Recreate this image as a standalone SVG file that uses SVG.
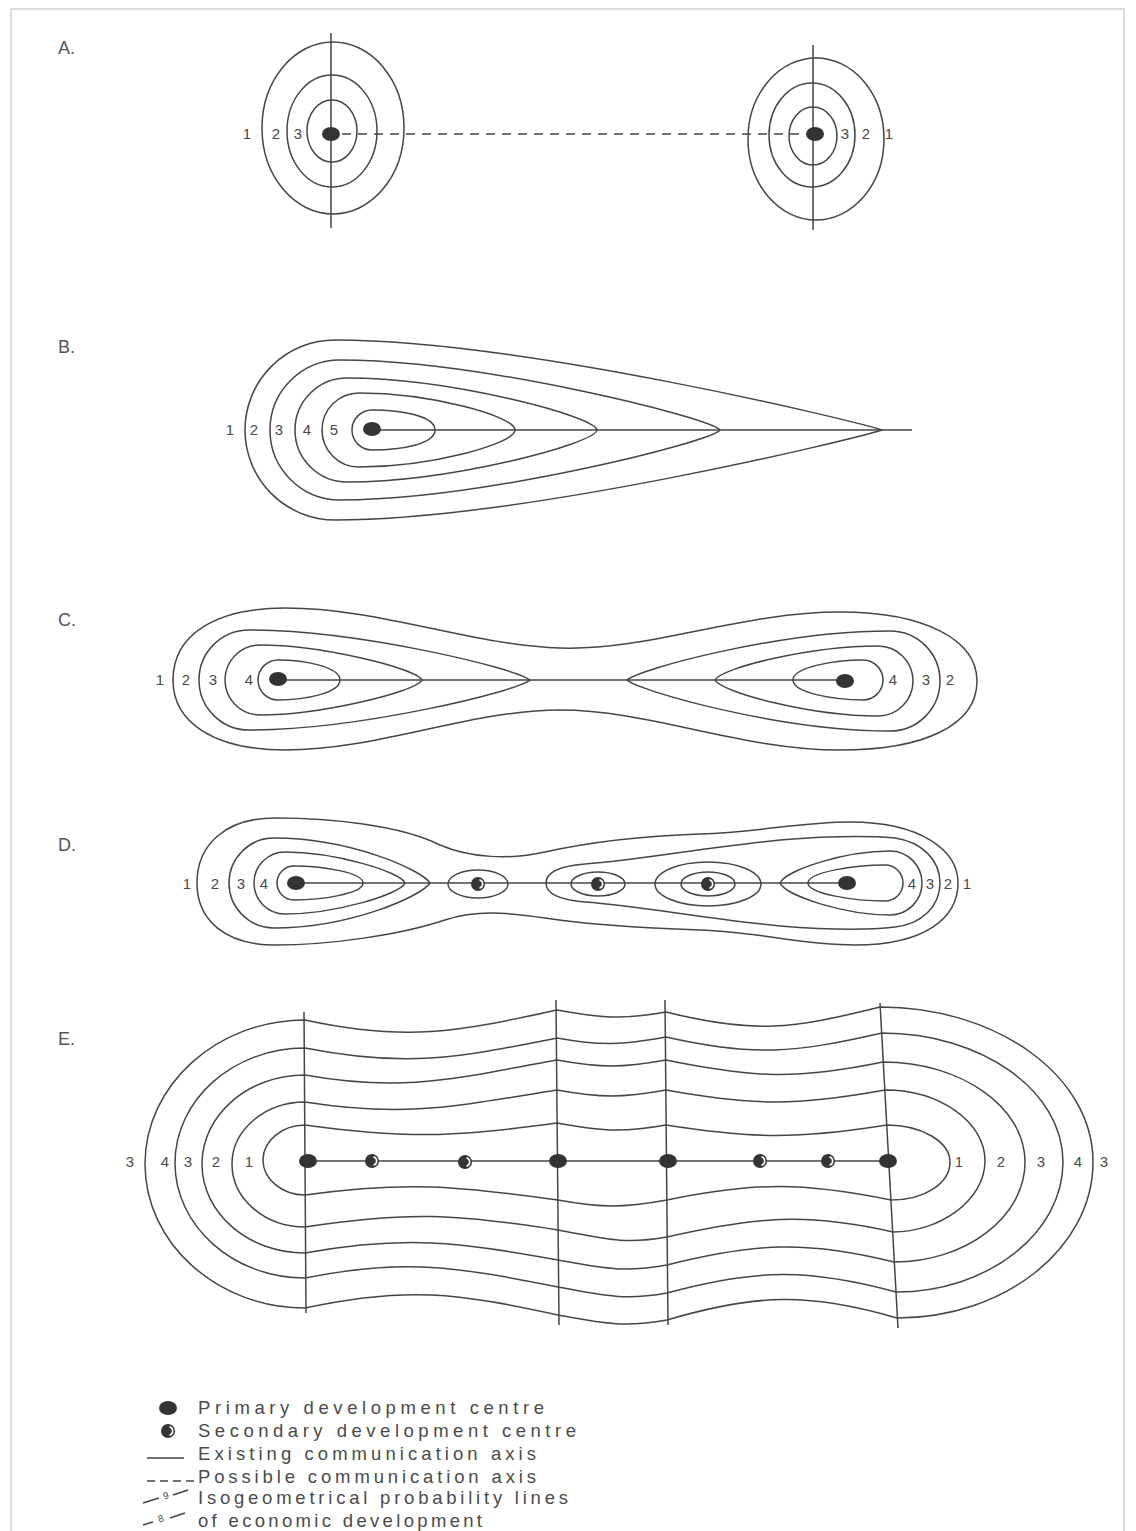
<svg xmlns="http://www.w3.org/2000/svg" width="1136" height="1531" viewBox="0 0 1136 1531">
<defs>
<style>
.c{fill:none;stroke:#454545;stroke-width:1.5;stroke-linejoin:round}
.ax{fill:none;stroke:#454545;stroke-width:1.5}
.dash{fill:none;stroke:#454545;stroke-width:1.5;stroke-dasharray:9 7}
.n{font-family:"Liberation Sans",Arial,sans-serif;font-size:15px;fill:#4a4a4a;text-anchor:middle}
.sec{font-family:"Liberation Sans",Arial,sans-serif;font-size:18px;fill:#555}
.lg{font-family:"Liberation Sans",Arial,sans-serif;font-size:18.5px;fill:#4a4a4a}
</style>
<g id="pri"><ellipse rx="9" ry="7" fill="#333"/></g>
<g id="secd"><circle r="7" fill="#353535"/><path d="M1.5,-4.3 A4.5,4.5 0 0 1 1.5,4.3" fill="none" stroke="#fff" stroke-width="1.6"/></g>
</defs>
<rect x="0" y="0" width="1136" height="1531" fill="#fff"/>
<path d="M11,1531 V9 H1124 V1531" fill="none" stroke="#cfcfcf" stroke-width="1.5"/>

<!-- Section A -->
<g id="sectionA">
<text class="sec" x="58" y="54">A.</text>
<g id="A-left">
<ellipse class="c" cx="333" cy="128" rx="71" ry="86"/>
<ellipse class="c" cx="332" cy="131" rx="45" ry="56"/>
<ellipse class="c" cx="332" cy="131" rx="25" ry="31"/>
<text class="n" x="247" y="139">1</text><text class="n" x="276" y="139">2</text><text class="n" x="298" y="139">3</text>
</g>
<g id="A-right">
<ellipse class="c" cx="816" cy="139" rx="68" ry="81"/>
<ellipse class="c" cx="812" cy="135" rx="43" ry="52"/>
<ellipse class="c" cx="813" cy="136" rx="24" ry="29"/>
<text class="n" x="845" y="139">3</text><text class="n" x="866" y="139">2</text><text class="n" x="889" y="139">1</text>
</g>
</g>

<!-- Section B -->
<g id="sectionB">
<text class="sec" x="58" y="353">B.</text>
<path class="c" d="M435 430 C435 416,402 410,372 410 A20 20 0 0 0 372 450 C402 450,435 444,435 430 Z"/>
<path class="c" d="M515 430 C515 416,430 393,359 393 A37 37 0 0 0 359 467 C430 467,515 444,515 430 Z"/>
<path class="c" d="M597 430 C595 416,450 378,347 378 A52 52 0 0 0 347 482 C450 482,595 444,597 430 Z"/>
<path class="c" d="M720 430 C712 418,480 360,340 360 A70 70 0 0 0 340 500 C480 500,712 442,720 430 Z"/>
<path class="c" d="M882 430 C855 421,520 340,335 340 A90 90 0 0 0 335 520 C520 520,855 439,882 430 Z"/>
<text class="n" x="230" y="435">1</text><text class="n" x="254" y="435">2</text><text class="n" x="279" y="435">3</text><text class="n" x="307" y="435">4</text><text class="n" x="334" y="435">5</text>
</g>

<!-- Section C -->
<g id="sectionC">
<text class="sec" x="58" y="626">C.</text>
<path class="c" d="M340 680 C340 667,305 660,278 660 A20 20 0 0 0 278 700 C305 700,340 693,340 680 Z"/>
<path class="c" d="M422 680 C416 668,320 645,260 645 A35 35 0 0 0 260 715 C320 715,416 692,422 680 Z"/>
<path class="c" d="M530 680 C518 669,360 630,249 630 A50 50 0 0 0 249 730 C360 730,518 691,530 680 Z"/>
<path class="c" d="M793 680 C793 667,835 660,863 660 A20 20 0 0 1 863 700 C835 700,793 693,793 680 Z"/>
<path class="c" d="M715 680 C721 668,810 646,878 646 A35 35 0 0 1 878 716 C810 716,721 692,715 680 Z"/>
<path class="c" d="M627 680 C639 669,780 631,890 631 A50 50 0 0 1 890 731 C780 731,639 691,627 680 Z"/>
<path class="c" d="M173 680 C173 635,215 608,285 608 C380 608,470 645,560 648 C650 651,740 612,840 612 C925 612,977 640,977 681 C977 725,925 750,840 750 C740 750,650 710,560 710 C470 710,380 750,285 750 C215 750,173 723,173 680 Z"/>
<text class="n" x="160" y="685">1</text><text class="n" x="186" y="685">2</text><text class="n" x="213" y="685">3</text><text class="n" x="249" y="685">4</text>
<text class="n" x="893" y="685">4</text><text class="n" x="926" y="685">3</text><text class="n" x="950" y="685">2</text>
</g>

<!-- Section D -->
<g id="sectionD">
<text class="sec" x="58" y="851">D.</text>
<path class="c" d="M363 883 C363 872,320 866,294 866 A17 17 0 0 0 294 900 C320 900,363 894,363 883 Z"/>
<path class="c" d="M405 883 C401 872,335 852,285 852 A31 31 0 0 0 285 914 C335 914,401 894,405 883 Z"/>
<path class="c" d="M430 883 C422 870,350 838,274 838 A45 45 0 0 0 274 928 C350 928,422 896,430 883 Z"/>
<ellipse class="c" cx="478" cy="884" rx="30" ry="14"/>
<ellipse class="c" cx="598" cy="884" rx="27" ry="12"/>
<ellipse class="c" cx="708" cy="884" rx="27" ry="12"/>
<ellipse class="c" cx="708" cy="884" rx="53" ry="22"/>
<path class="c" d="M808 883 C808 872,855 865,885 865 A18 18 0 0 1 885 901 C855 901,808 894,808 883 Z"/>
<path class="c" d="M780 883 C786 870,845 851,890 851 A32 32 0 0 1 890 915 C845 915,786 896,780 883 Z"/>
<path class="c" d="M546 883 C546 872,560 866,585 864 C640 860,700 848,780 840 C830 836,870 836,895 838 C922 842,940 860,940 883 C940 906,922 924,895 927 C870 930,830 930,780 926 C700 918,640 906,585 902 C560 900,546 894,546 883 Z"/>
<path class="c" d="M197 883 C197 845,225 818,275 818 C330 818,400 825,440 845 C470 858,510 860,545 852 C590 842,640 836,700 834 C760 832,800 822,850 822 C920 822,958 850,958 883 C958 918,925 945,855 945 C800 945,760 932,700 930 C640 928,590 925,545 918 C505 912,475 910,445 920 C400 935,330 945,275 945 C225 945,197 920,197 883 Z"/>
<text class="n" x="187" y="889">1</text><text class="n" x="215" y="889">2</text><text class="n" x="241" y="889">3</text><text class="n" x="264" y="889">4</text>
<text class="n" x="912" y="889">4</text><text class="n" x="930" y="889">3</text><text class="n" x="948" y="889">2</text><text class="n" x="967" y="889">1</text>
</g>

<!-- Section E -->
<g id="sectionE">
<text class="sec" x="58" y="1045">E.</text>
<path class="c" d="M305 1125 C406 1139,456 1137,557 1123 C601 1131,622 1133,666 1125 C754 1139,799 1139,887 1125 C922 1125,950 1142,950 1162 C950 1183,925 1200,891 1200 C803 1182,755 1182,667 1200 C623 1208,602 1208,558 1200 C457 1186,406 1181,305 1195 C282 1195,263 1179,263 1160 C263 1141,282 1125,305 1125 Z"/>
<path class="c" d="M305 1102 C406 1118,456 1106,557 1090 C601 1098,622 1098,666 1090 C754 1106,797 1106,885 1090 C940 1090,985 1122,985 1161 C985 1200,940 1232,893 1232 C805 1212,755 1217,667 1237 C623 1245,602 1238,558 1230 C457 1214,406 1211,305 1227 C265 1227,232 1199,232 1164 C232 1130,265 1102,305 1102 Z"/>
<path class="c" d="M305 1075 C406 1093,456 1078,557 1060 C601 1068,622 1068,666 1060 C754 1078,795 1080,883 1062 C961 1062,1025 1107,1025 1162 C1025 1217,966 1262,894 1262 C806 1240,755 1243,667 1265 C623 1273,602 1268,558 1260 C457 1242,406 1235,305 1253 C248 1253,202 1213,202 1164 C202 1115,248 1075,305 1075 Z"/>
<path class="c" d="M305 1048 C406 1068,456 1058,557 1038 C601 1046,622 1045,666 1037 C754 1057,794 1053,882 1033 C982 1033,1063 1091,1063 1162 C1063 1233,988 1292,896 1292 C808 1268,755 1269,667 1293 C623 1301,602 1295,558 1287 C457 1267,406 1258,305 1278 C233 1278,175 1226,175 1163 C175 1100,233 1048,305 1048 Z"/>
<path class="c" d="M305 1020 C406 1042,456 1032,557 1010 C601 1018,622 1020,666 1012 C754 1034,792 1029,880 1007 C997 1007,1093 1076,1093 1162 C1093 1248,1005 1318,897 1318 C809 1292,755 1294,667 1320 C623 1328,602 1323,558 1315 C457 1293,406 1286,305 1308 C217 1308,145 1243,145 1164 C145 1085,217 1020,305 1020 Z"/>
<text class="n" x="130" y="1167">3</text><text class="n" x="165" y="1167">4</text><text class="n" x="188" y="1167">3</text><text class="n" x="216" y="1167">2</text><text class="n" x="249" y="1167">1</text>
<text class="n" x="959" y="1167">1</text><text class="n" x="1001" y="1167">2</text><text class="n" x="1041" y="1167">3</text><text class="n" x="1078" y="1167">4</text><text class="n" x="1104" y="1167">3</text>
</g>

<!-- Connectors: communication axes -->
<g id="connectors">
<line class="ax" x1="331" y1="33" x2="331" y2="228"/>
<line class="ax" x1="813" y1="45" x2="813" y2="230"/>
<line class="dash" x1="342" y1="134" x2="806" y2="134"/>
<line class="ax" x1="372" y1="430" x2="912" y2="430"/>
<line class="ax" x1="278" y1="680" x2="845" y2="680"/>
<line class="ax" x1="296" y1="883" x2="847" y2="883"/>
<line class="ax" x1="308" y1="1161" x2="888" y2="1161"/>
<line class="ax" x1="304" y1="1012" x2="306" y2="1313"/>
<line class="ax" x1="556" y1="1000" x2="559" y2="1325"/>
<line class="ax" x1="665" y1="1000" x2="668" y2="1325"/>
<line class="ax" x1="880" y1="1003" x2="898" y2="1328"/>
</g>

<!-- Development centres -->
<g id="centres">
<use href="#pri" x="331" y="134"/>
<use href="#pri" x="815" y="134"/>
<use href="#pri" x="372" y="429"/>
<use href="#pri" x="278" y="679"/>
<use href="#pri" x="845" y="681"/>
<use href="#pri" x="296" y="883"/>
<use href="#secd" x="478" y="884"/>
<use href="#secd" x="598" y="884"/>
<use href="#secd" x="708" y="884"/>
<use href="#pri" x="847" y="883"/>
<use href="#pri" x="308" y="1161"/>
<use href="#secd" x="372" y="1161"/>
<use href="#secd" x="465" y="1162"/>
<use href="#pri" x="558" y="1161"/>
<use href="#pri" x="668" y="1161"/>
<use href="#secd" x="760" y="1161"/>
<use href="#secd" x="828" y="1161"/>
<use href="#pri" x="888" y="1161"/>
</g>

<!-- Legend -->
<g id="legend">
<use href="#pri" x="168" y="1408"/>
<use href="#secd" x="168" y="1431"/>
<line class="ax" x1="147" y1="1458" x2="184" y2="1458"/>
<line class="dash" x1="147" y1="1481" x2="195" y2="1481" style="stroke-dasharray:8 5"/>
<path class="ax" d="M143 1503 L159 1498 M173 1495 L188 1490 M143 1525 L153 1522 M170 1518 L185 1513"/>
<text x="166" y="1499" font-family="Liberation Sans, Arial, sans-serif" font-size="10" fill="#4a4a4a" text-anchor="middle" transform="rotate(-18 166 1496)">9</text>
<text x="161" y="1522" font-family="Liberation Sans, Arial, sans-serif" font-size="10" fill="#4a4a4a" text-anchor="middle" transform="rotate(-18 161 1519)">8</text>
<text class="lg" x="198" y="1414" textLength="346" lengthAdjust="spacing">Primary development centre</text>
<text class="lg" x="198" y="1437" textLength="378" lengthAdjust="spacing">Secondary development centre</text>
<text class="lg" x="198" y="1460" textLength="338" lengthAdjust="spacing">Existing communication axis</text>
<text class="lg" x="198" y="1483" textLength="338" lengthAdjust="spacing">Possible communication axis</text>
<text class="lg" x="198" y="1504" textLength="370" lengthAdjust="spacing">Isogeometrical probability lines</text>
<text class="lg" x="198" y="1527" textLength="284" lengthAdjust="spacing">of economic development</text>
</g>
</svg>
